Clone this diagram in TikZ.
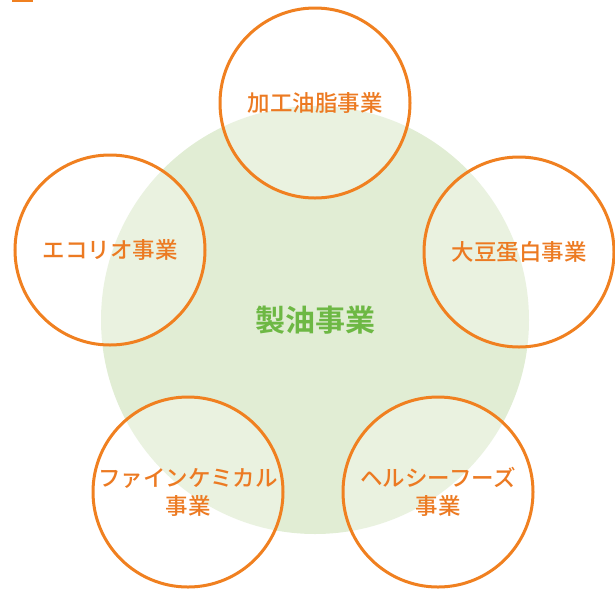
\documentclass[tikz,border=0pt]{standalone}
\usepackage{fontspec}
\newfontfamily\jp{Noto Sans CJK JP Medium}
\newfontfamily\jpb{Noto Sans CJK JP Bold}
\definecolor{orng}{HTML}{F08020}
\definecolor{orngtxt}{HTML}{EC7A22}
\definecolor{lgreen}{HTML}{E1EDD4}
\definecolor{gtxt}{HTML}{6DB844}
\begin{document}
\begin{tikzpicture}[x=1pt,y=-1pt,
  biz/.style={circle,draw=orng,line width=3pt,fill=white,fill opacity=0.3,text opacity=1,
    minimum size=190pt,inner sep=0pt,align=center,text=orngtxt,
    font=\jp\fontsize{22.5}{28}\selectfont},
  core/.style={circle,fill=lgreen,minimum size=428pt,inner sep=0pt,text=gtxt,
    font=\jpb\fontsize{30}{34}\selectfont}]
\useasboundingbox (0,0) rectangle (615,590);
\fill[orng] (12,0) rectangle (33,2);
\node[core] (core) at (315,320) {製油事業};
\node[biz] (top) at (315,103) {加工油脂事業};
\node[biz] (right) at (519,252) {大豆蛋白事業};
\node[biz] (left) at (110,250) {エコリオ事業};
\node[biz] (bl) at (188,492) {ファインケミカル\\事業};
\node[biz] (br) at (438,492) {ヘルシーフーズ\\事業};
\end{tikzpicture}
\end{document}
